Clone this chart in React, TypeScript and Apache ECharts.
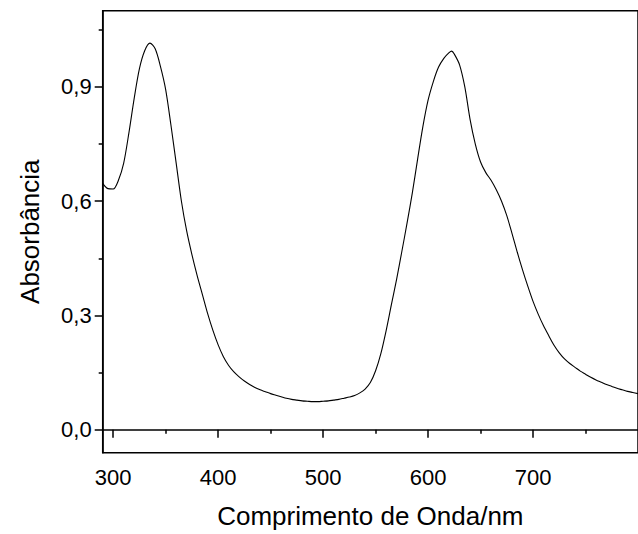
import React, { useEffect, useRef } from "react";
import * as echarts from "echarts";

const wavelengths = [
  290, 295, 300, 305, 310, 315, 320, 325, 330, 335, 340, 345, 350, 355, 360, 365, 370, 375, 380, 385, 390, 395, 400,
  405, 410, 415, 420, 425, 430, 435, 440, 445, 450, 455, 460, 465, 470, 475, 480, 485, 490, 495, 500, 505, 510, 515,
  520, 525, 530, 535, 540, 545, 550, 555, 560, 565, 570, 575, 580, 585, 590, 595, 600, 605, 610, 615, 620, 622.5, 625,
  630, 635, 640, 645, 650, 655, 660, 665, 670, 675, 680, 685, 690, 695, 700, 705, 710, 715, 720, 725, 730, 735, 740,
  745, 750, 755, 760, 765, 770, 775, 780, 785, 790, 795, 800,
];
const absorbance = [
  0.647, 0.633, 0.632, 0.655, 0.7, 0.78, 0.87, 0.948, 0.995, 1.015, 1.0, 0.954, 0.893, 0.8, 0.7, 0.6, 0.522, 0.46,
  0.405, 0.355, 0.305, 0.261, 0.223, 0.192, 0.169, 0.152, 0.139, 0.128, 0.119, 0.111, 0.105, 0.1, 0.095, 0.091, 0.087,
  0.083, 0.08, 0.078, 0.076, 0.075, 0.074, 0.074, 0.075, 0.076, 0.078, 0.08, 0.083, 0.086, 0.09, 0.097, 0.107, 0.124,
  0.155, 0.2, 0.26, 0.328, 0.395, 0.468, 0.543, 0.622, 0.71, 0.795, 0.865, 0.914, 0.952, 0.975, 0.99, 0.994, 0.986,
  0.958, 0.9, 0.815, 0.75, 0.703, 0.675, 0.655, 0.63, 0.6, 0.562, 0.515, 0.466, 0.42, 0.377, 0.337, 0.303, 0.273,
  0.247, 0.222, 0.202, 0.186, 0.174, 0.164, 0.154, 0.146, 0.138, 0.131, 0.125, 0.119, 0.114, 0.109, 0.105, 0.101,
  0.098, 0.095,
];
const xMajorTicks = [300, 400, 500, 600, 700];
const xMinorTicks = [350, 450, 550, 650, 750];
const yMajorTicks = [0, 0.3, 0.6, 0.9];
const yMinorTicks = [0.15, 0.45, 0.75, 1.05];

const FONT = "Liberation Sans, Arial, sans-serif";

export default function App() {
  const ref = useRef<HTMLDivElement>(null);
  useEffect(() => {
    if (!ref.current) return;
    const chart = echarts.init(ref.current, null, { renderer: "svg" });
    const data = wavelengths.map((w, i) => [w, absorbance[i]]);
    const axisLine = { show: true, lineStyle: { color: "#000", width: 1.5 } };
    chart.setOption({
      animation: false,
      backgroundColor: "#fff",
      grid: {
        left: 102.7,
        top: 10.7,
        right: -12.8,
        bottom: 81.3,
        show: true,
        borderColor: "#000",
        borderWidth: 1.5,
        backgroundColor: "transparent",
      },
      xAxis: [
        {
          type: "value",
          min: 290,
          max: 800,
          name: "Comprimento de Onda/nm",
          nameLocation: "middle",
          nameGap: 50,
          nameTextStyle: { fontFamily: FONT, fontSize: 26, color: "#000" },
          axisLine,
          axisTick: { show: true, inside: false, length: 8, customValues: xMajorTicks, lineStyle: { color: "#000", width: 1.5 } },
          axisLabel: { customValues: xMajorTicks, margin: 14, fontFamily: FONT, fontSize: 22, color: "#000" },
          splitLine: { show: false },
        },
        {
          type: "value",
          min: 290,
          max: 800,
          position: "bottom",
          axisLine: { show: false },
          axisTick: { show: true, inside: false, length: 4, customValues: xMinorTicks, lineStyle: { color: "#000", width: 1.5 } },
          axisLabel: { show: false },
          splitLine: { show: false },
        },
      ],
      yAxis: [
        {
          type: "value",
          min: -0.06,
          max: 1.1,
          name: "Absorbância",
          nameLocation: "middle",
          nameGap: 60,
          nameTextStyle: { fontFamily: FONT, fontSize: 26, color: "#000" },
          axisLine,
          axisTick: { show: true, inside: false, length: 8, customValues: yMajorTicks, lineStyle: { color: "#000", width: 1.5 } },
          axisLabel: {
            customValues: yMajorTicks,
            margin: 11,
            fontFamily: FONT,
            fontSize: 22,
            color: "#000",
            formatter: (v: number) => v.toFixed(1).replace(".", ","),
          },
          splitLine: { show: false },
        },
        {
          type: "value",
          min: -0.06,
          max: 1.1,
          position: "left",
          axisLine: { show: false },
          axisTick: { show: true, inside: false, length: 4, customValues: yMinorTicks, lineStyle: { color: "#000", width: 1.5 } },
          axisLabel: { show: false },
          splitLine: { show: false },
        },
      ],
      series: [
        {
          type: "line",
          data,
          smooth: 0.3,
          showSymbol: false,
          symbol: "none",
          lineStyle: { color: "#000", width: 1.1 },
          xAxisIndex: 0,
          yAxisIndex: 0,
        },
      ],
    });
    return () => chart.dispose();
  }, []);
  return <div ref={ref} style={{ position: "absolute", left: 0, top: 0, width: 638, height: 534 }} />;
}
